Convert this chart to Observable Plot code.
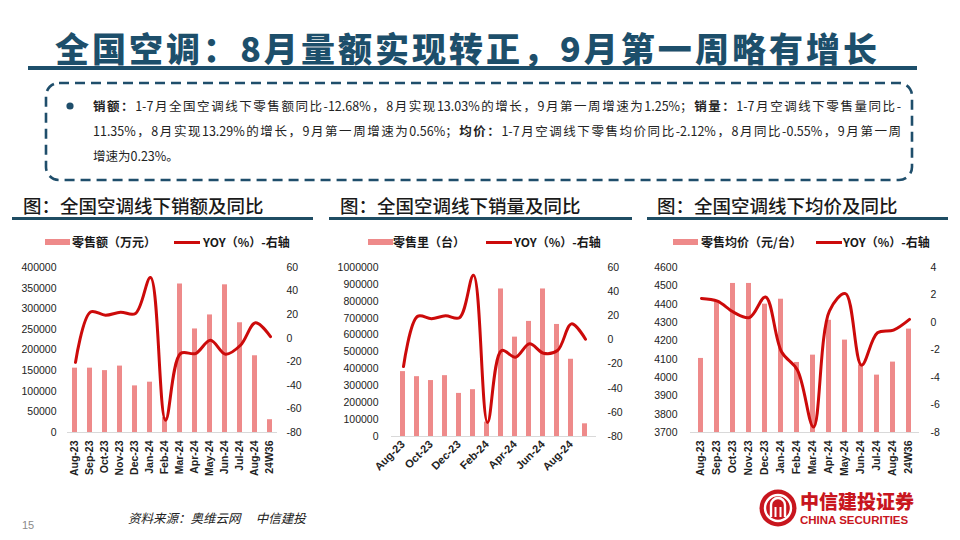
<!DOCTYPE html>
<html><head><meta charset="utf-8">
<script src="https://cdn.jsdelivr.net/npm/d3@7"></script>
<script src="https://cdn.jsdelivr.net/npm/@observablehq/plot@0.6"></script>
<style>
html,body{margin:0;padding:0;background:#fff;}
#slide{position:relative;width:960px;height:540px;overflow:hidden;font-family:"Noto Sans CJK SC",sans-serif;color:#222;}
.abs{position:absolute;}
.title{left:55px;top:26px;width:822px;font-size:34px;font-weight:900;color:#1d4f6b;text-align:justify;text-align-last:justify;line-height:44px;white-space:nowrap;}
.body{left:93px;width:808px;font-size:12.5px;line-height:16px;white-space:nowrap;color:#222;}
.just{text-align:justify;text-align-last:justify;}
.ptitle{font-size:18.5px;font-weight:500;color:#1a1a1a;line-height:24px;white-space:nowrap;top:193px;}
.prule{height:3px;background:#1f4d63;top:217px;}
.leg{font-size:12px;font-weight:700;line-height:16px;top:234px;white-space:nowrap;color:#1a1a1a;}
.sw{height:6px;top:239px;background:#ee8a8a;}
.lsw{height:3px;top:241px;background:#cc0a0a;}
.chart{top:255px;}
.chart svg{position:absolute;left:0;top:0;}
</style></head><body><div id="slide"></div>
<script>
// ---------- data ----------
const months = ["Aug-23","Sep-23","Oct-23","Nov-23","Dec-23","Jan-24","Feb-24","Mar-24","Apr-24","May-24","Jun-24","Jul-24","Aug-24","24W36"];
const salesValue = [156000,156000,150000,161000,113000,122000,36000,360000,251000,285000,358000,266000,186000,31000];
const salesValueYoy = [-20.5,22.3,19.5,22,21,51.5,-69.6,-13,-13,-1.7,-13.6,-6,13.03,1.25];
const salesVolume = [384000,354000,331000,360000,255000,277000,85000,873000,588000,681000,873000,663000,457000,75000];
const salesVolumeYoy = [-22,19.5,17.6,20,18.4,53.6,-68.4,-8.8,-14.3,-3.2,-11,-8.8,13.29,0.56];
const avgPrice = [4104,4412,4513,4513,4400,4427,4082,4122,4312,4204,4068,4013,4084,4264];
const avgPriceYoy = [1.75,1.55,0.75,0.36,1.85,-2.13,-3.47,-7.6,0.85,2.1,-3.1,-0.75,-0.55,0.23];

const valueTicks = [0,50000,100000,150000,200000,250000,300000,350000,400000];
const volumeTicks = [0,100000,200000,300000,400000,500000,600000,700000,800000,900000,1000000];
const priceTicks = [3700,3800,3900,4000,4100,4200,4300,4400,4500,4600];
const yoyTicks = [-80,-60,-40,-20,0,20,40,60];
const priceYoyTicks = [-8,-6,-4,-2,0,2,4];

const titleText = "全国空调：8月量额实现转正，9月第一周略有增长";
const panelTitles = ["图：全国空调线下销额及同比","图：全国空调线下销量及同比","图：全国空调线下均价及同比"];
const barLegends = ["零售额（万元）","零售里（台）","零售均价（元/台）"];
const lineLegend = "YOY（%）-右轴";
const sourceText = "资料来源：奥维云网　 中信建投";

// ---------- layout ----------
const slide = document.getElementById("slide");
function el(cls, css, html){const d=document.createElement("div");d.className="abs "+cls;Object.assign(d.style,css);if(html!==undefined)d.innerHTML=html;slide.appendChild(d);return d;}

el("title",{},titleText);
el("",{left:"28px",top:"66px",width:"889px",height:"4px",background:"#1d4f6b"});

// decorative svg (dashed box, bullet, logo)
const deco = document.createElementNS("http://www.w3.org/2000/svg","svg");
deco.setAttribute("width",960);deco.setAttribute("height",540);
deco.style.position="absolute";deco.style.left="0";deco.style.top="0";
deco.innerHTML = `
<rect x="46" y="83" width="866" height="97" rx="13" fill="none" stroke="#1f4e6b" stroke-width="2.6" stroke-dasharray="10 6"/>
<circle cx="70" cy="106" r="3.6" fill="#1f4e6b"/>
<g transform="translate(778,508)">
 <circle r="18.5" fill="#c8161e"/>
 <circle r="13" fill="none" stroke="#fff" stroke-width="2.4"/>
 <path d="M-7,9 V-3 A7,7 0 0 1 7,-3 V9" fill="none" stroke="#fff" stroke-width="2.4"/>
 <path d="M-2.5,9 V-1 M2.5,9 V-1" stroke="#fff" stroke-width="2"/>
</g>`;
slide.appendChild(deco);

el("body just",{top:"98px"},"<b>销额：</b>1-7月全国空调线下零售额同比-12.68%，8月实现13.03%的增长，9月第一周增速为1.25%；<b>销量：</b>1-7月空调线下零售量同比-");
el("body just",{top:"123px"},"11.35%，8月实现13.29%的增长，9月第一周增速为0.56%；<b>均价：</b>1-7月空调线下零售均价同比-2.12%，8月同比-0.55%，9月第一周");
el("body",{top:"148px"},"增速为0.23%。");

el("",{left:"128px",top:"508px",fontSize:"12.5px",fontStyle:"italic",whiteSpace:"nowrap",color:"#222"},sourceText);
el("",{left:"22px",top:"519px",fontSize:"11px",color:"#8a8a8a",fontFamily:'"Liberation Sans",Arial,sans-serif'},"15");
el("",{left:"800px",top:"491px",fontSize:"19px",fontWeight:"900",color:"#c8161e",whiteSpace:"nowrap",lineHeight:"20px"},"中信建投证券");
el("",{left:"800px",top:"514px",fontSize:"11.5px",fontWeight:"700",color:"#c8161e",whiteSpace:"nowrap",fontFamily:'"Liberation Sans",Arial,sans-serif',lineHeight:"12px"},"CHINA SECURITIES");

const panels = [
  {left:0, titleX:23, ruleX:12, ruleW:301, bars:salesValue, yoy:salesValueYoy, lDom:[0,400000], lTicks:valueTicks, rDom:[-80,60], rTicks:yoyTicks,
   mL:67, mR:43, mB:68, lPad:11, rPad:9, sw:45, tx:72, lsw:174, ltx:203, legend:barLegends[0],
   xAxis:{tickRotate:-90, tickPadding:8, fontWeight:"bold", fontSize:10.5}},
  {left:320, titleX:340, ruleX:329, ruleW:303, bars:salesVolume, yoy:salesVolumeYoy, lDom:[0,1000000], lTicks:volumeTicks, rDom:[-80,60], rTicks:yoyTicks,
   mL:71, mR:44, mB:64, lPad:13, rPad:11, sw:368, tx:393, lsw:486, ltx:514, legend:barLegends[1],
   xAxis:{tickRotate:-45, tickPadding:6, fontWeight:600, fontSize:11, ticks: months.filter((d,i)=>i%2===0)}},
  {left:640, titleX:657, ruleX:647, ruleW:301, bars:avgPrice, yoy:avgPriceYoy, lDom:[3700,4600], lTicks:priceTicks, rDom:[-8,4], rTicks:priceYoyTicks,
   mL:50, mR:41, mB:68, lPad:13, rPad:11, sw:673, tx:701, lsw:816, ltx:843, legend:barLegends[2],
   xAxis:{tickRotate:-90, tickPadding:8, fontWeight:"bold", fontSize:10.5}}
];

panels.forEach((cfg,k)=>{
  el("ptitle",{left:cfg.titleX+"px"},panelTitles[k]);
  el("prule",{left:cfg.ruleX+"px",width:cfg.ruleW+"px"});
  el("sw",{left:cfg.sw+"px",width:"25px"});
  el("leg",{left:cfg.tx+"px"},cfg.legend);
  el("lsw",{left:cfg.lsw+"px",width:"26px"});
  el("leg",{left:cfg.ltx+"px"},lineLegend);

  const data = months.map((m,i)=>({m, bar:cfg.bars[i], yoy:cfg.yoy[i]}));
  const common = {width:320, height:245, marginTop:12, marginBottom:cfg.mB, marginLeft:cfg.mL, marginRight:cfg.mR,
    style:{fontFamily:'"Liberation Sans", Arial, sans-serif', fontSize:"10.5px", color:"#222", background:"transparent", overflow:"visible"}};
  const p1 = Plot.plot({...common,
    x:{type:"band", domain:months, paddingInner:0.66, paddingOuter:0.33, label:null},
    y:{domain:cfg.lDom, label:null},
    marks:[
      Plot.barY(data,{x:"m", y1:cfg.lDom[0], y2:"bar", fill:"#ee8a8a"}),
      Plot.ruleY([cfg.lDom[0]],{stroke:"#d9d9d9", strokeWidth:1.2}),
      Plot.axisY({ticks:cfg.lTicks, tickSize:0, tickPadding:cfg.lPad, tickFormat:d=>String(d), label:null}),
      Plot.axisX({...cfg.xAxis, tickSize:0, label:null})
    ]});
  const p2 = Plot.plot({...common,
    x:{type:"point", domain:months, padding:0.5, axis:null},
    y:{domain:cfg.rDom, label:null},
    marks:[
      Plot.axisY({anchor:"right", ticks:cfg.rTicks, tickSize:0, tickPadding:cfg.rPad, tickFormat:d=>String(d), label:null}),
      Plot.line(data,{x:"m", y:"yoy", curve:"catmull-rom", stroke:"#cc0a0a", strokeWidth:3})
    ]});
  const c = el("chart",{left:cfg.left+"px",width:"320px",height:"245px"});
  c.appendChild(p1); c.appendChild(p2);
});
</script></body></html>
